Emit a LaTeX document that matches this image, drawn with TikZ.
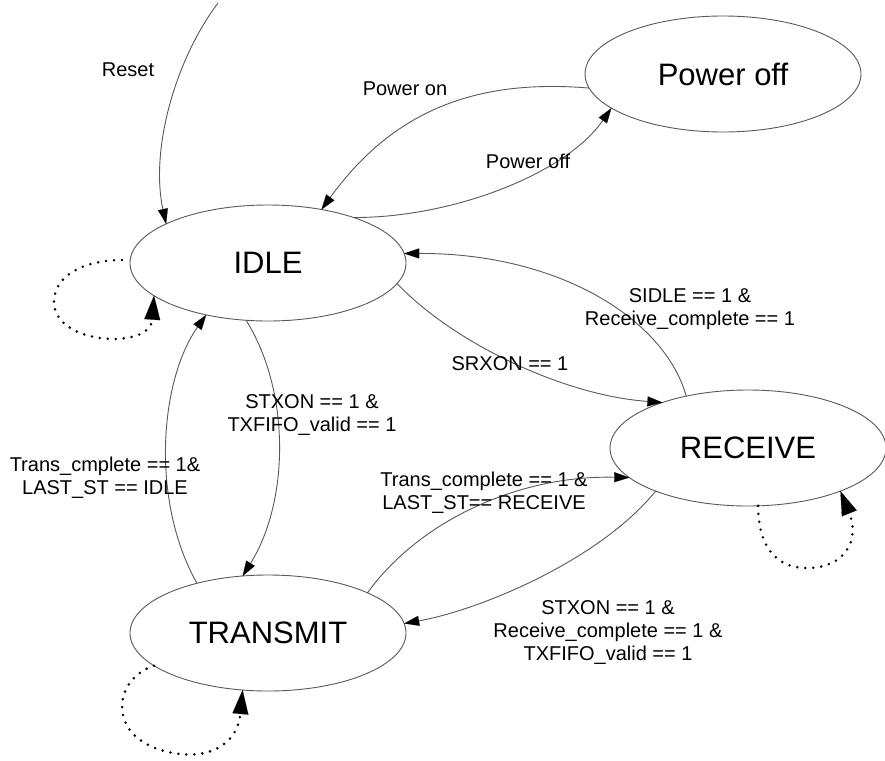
\documentclass[tikz,border=0pt]{standalone}
\usepackage{fontspec}
\setmainfont{Liberation Sans}
\usetikzlibrary{shapes.geometric,arrows.meta}

\tikzset{
  state/.style={ellipse, draw=black!65, line width=0.9pt,
    minimum width=276pt, minimum height=116pt, inner sep=0pt, outer sep=0pt,
    text depth=0pt, font=\fontsize{31}{36}\selectfont},
  trans/.style={draw=black!65, line width=0.9pt,
    -{Triangle[length=15pt,width=10pt,color=black,fill=black,line width=0.1pt]}},
  selfloop/.style={draw=black, line width=2.8pt, dash pattern=on 0pt off 8pt,
    line cap=round,
    -{Triangle[length=24pt,width=16pt,color=black,fill=black,line width=0.1pt]}},
  cond/.style={align=center, font=\fontsize{20}{23}\selectfont, inner sep=0pt},
}

\begin{document}
\begin{tikzpicture}[x=1pt,y=-1pt]
  \useasboundingbox[fill=white] (0,0) rectangle (885,760);

  % states
  \node[state] (idle) at (268,263) {IDLE};
  \node[state] (poff) at (723,74)  {Power off};
  \node[state] (rcv)  at (748,448) {RECEIVE};
  \node[state] (tx)   at (268,633) {TRANSMIT};

  % reset entry
  \coordinate (reset) at (218,3);
  \draw[trans] (reset) .. controls (175,60) and (150,150) .. (idle.159);

  % transitions
  \draw[trans] (poff.186) .. controls (470,78) and (390,115) .. (idle.45);
  \draw[trans] (idle.28) .. controls (450,218) and (565,175) .. (poff.197);
  \draw[trans] (rcv.140) .. controls (665,320) and (560,253) .. (idle.4);
  \draw[trans] (idle.-9) .. controls (450,340) and (560,395) .. (rcv.152);
  \draw[trans] (idle.-111) .. controls (290,390) and (290,500) .. (tx.114);
  \draw[trans] (tx.145) .. controls (150,500) and (160,380) .. (idle.-140);
  \draw[trans] (tx.22) .. controls (420,520) and (520,475) .. (rcv.194);
  \draw[trans] (rcv.205) .. controls (600,560) and (480,610) .. (tx.4);

  % self loops
  \draw[selfloop] ([xshift=-8pt,yshift=3pt]idle.west)
    .. controls (85,260) and (54,275) .. (54,302)
    .. controls (54,345) and (150,350) .. (idle.-164);
  \draw[selfloop] (rcv.-80)
    .. controls (758,545) and (775,568) .. (807,568)
    .. controls (845,568) and (860,540) .. (rcv.-25);
  \draw[selfloop] (tx.196)
    .. controls (110,680) and (105,745) .. (180,754)
    .. controls (215,758) and (238,740) .. (tx.-114);

  % conditions
  \node[cond] (lreset) at (128,70)  {Reset};
  \node[cond] (lpon)   at (405,89)  {Power on};
  \node[cond] (lpoff)  at (528,161) {Power off};
  \node[cond] (lsidle) at (690,309) {SIDLE == 1 \&\\Receive\_complete == 1};
  \node[cond] (lsrxon) at (510,364) {SRXON == 1};
  \node[cond] (lstx)   at (312,415) {STXON == 1 \&\\TXFIFO\_valid == 1};
  \node[cond] (ltci)   at (105,478) {Trans\_cmplete == 1\&\\LAST\_ST == IDLE};
  \node[cond] (ltcr)   at (484,493) {Trans\_complete == 1 \&\\LAST\_ST== RECEIVE};
  \node[cond] (lstx3)  at (608,632) {STXON == 1 \&\\Receive\_complete == 1 \&\\TXFIFO\_valid == 1};
\end{tikzpicture}
\end{document}
